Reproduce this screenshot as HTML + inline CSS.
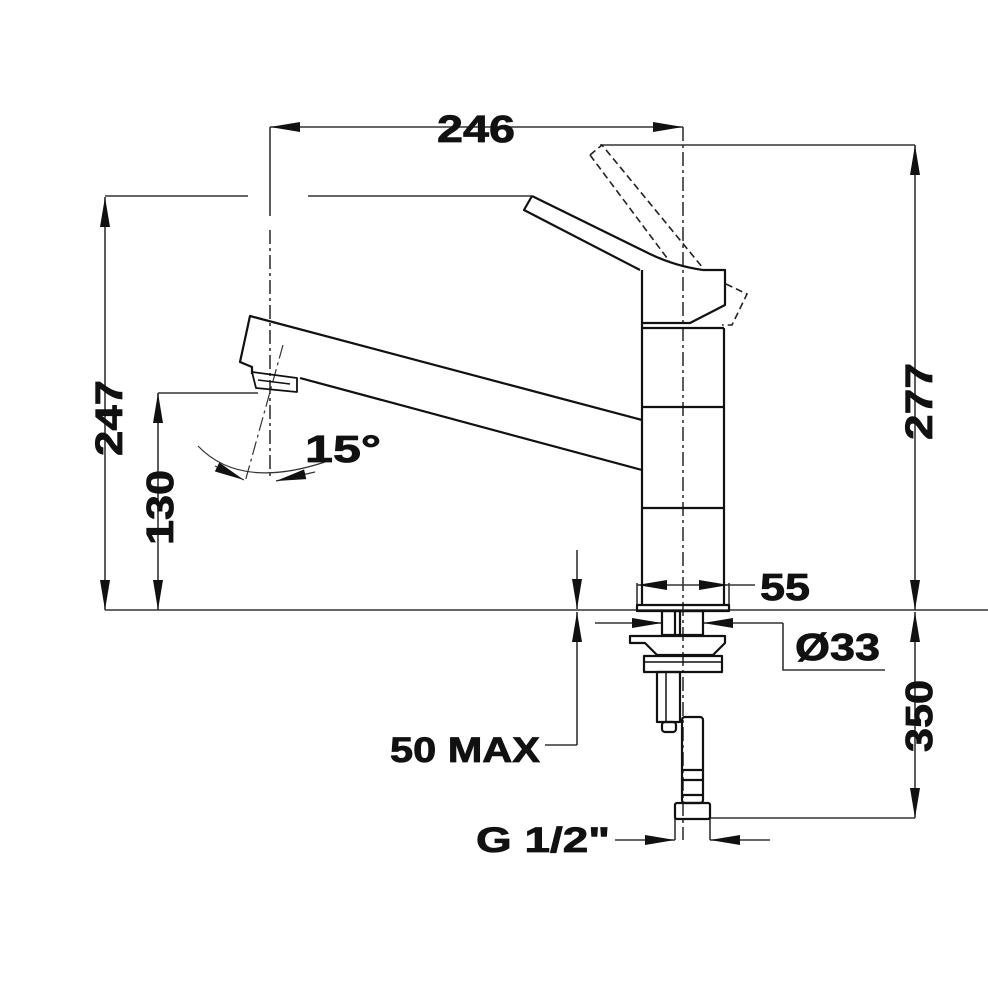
<!DOCTYPE html>
<html><head><meta charset="utf-8"><style>
html,body{margin:0;padding:0;background:#fff;width:988px;height:999px;overflow:hidden}
svg{display:block}
text{font-family:"Liberation Sans",Arial,sans-serif;font-weight:bold;fill:#111;stroke:#111;stroke-width:0.8}
</style></head><body>
<svg width="988" height="999" viewBox="0 0 988 999" xmlns="http://www.w3.org/2000/svg">
<defs>
<marker id="a" viewBox="0 0 30 10" refX="30" refY="5" markerWidth="30" markerHeight="10" markerUnits="userSpaceOnUse" orient="auto-start-reverse"><path d="M0,0L30,5L0,10z" fill="#111"/></marker>
</defs>
<g stroke="#333" stroke-width="1.6" fill="none">
<line x1="270" y1="127" x2="683" y2="127" marker-start="url(#a)" marker-end="url(#a)"/>
<line x1="270" y1="127" x2="270" y2="216"/>
<line x1="270" y1="230" x2="270" y2="480" stroke-dasharray="14,4,3,4"/>
<line x1="683" y1="127" x2="683" y2="840" stroke-dasharray="14,4,3,4"/>
<line x1="105" y1="197" x2="105" y2="610" marker-start="url(#a)" marker-end="url(#a)"/>
<line x1="105" y1="196" x2="248" y2="196"/>
<line x1="308" y1="196" x2="532" y2="196"/>
<line x1="105" y1="610" x2="990" y2="610"/>
<line x1="915" y1="145" x2="915" y2="610" marker-start="url(#a)" marker-end="url(#a)"/>
<line x1="600" y1="145" x2="915" y2="145"/>
<line x1="158" y1="393" x2="158" y2="610" marker-start="url(#a)" marker-end="url(#a)"/>
<line x1="158" y1="393" x2="258" y2="393"/>
<line x1="283" y1="345" x2="245" y2="482" stroke-dasharray="14,4,3,4" stroke-width="1.2"/>
<path d="M198,446 Q240,490 325,462" stroke-width="1.2"/>
<line x1="215" y1="466" x2="244" y2="480" marker-end="url(#a)" stroke-width="1.2"/>
<line x1="315" y1="472" x2="276" y2="481" marker-end="url(#a)" stroke-width="1.2"/>
<line x1="637" y1="585" x2="729" y2="585" marker-start="url(#a)" marker-end="url(#a)"/>
<line x1="729" y1="585" x2="755" y2="585"/>
<line x1="637" y1="583" x2="637" y2="605"/><line x1="729" y1="583" x2="729" y2="605"/>
<line x1="595" y1="623" x2="662" y2="623" marker-end="url(#a)"/>
<line x1="783" y1="623" x2="703" y2="623" marker-end="url(#a)"/>
<polyline points="783,623 783,670 885,670"/>
<line x1="577" y1="550" x2="577" y2="609" marker-end="url(#a)"/>
<line x1="577" y1="745" x2="577" y2="612" marker-end="url(#a)"/>
<line x1="545" y1="745" x2="577" y2="745"/>
<line x1="915" y1="612" x2="915" y2="818" marker-start="url(#a)" marker-end="url(#a)"/>
<line x1="710" y1="818" x2="915" y2="818"/>
<line x1="615" y1="840" x2="675" y2="840" marker-end="url(#a)"/>
<line x1="770" y1="840" x2="710" y2="840" marker-end="url(#a)"/>
<line x1="675" y1="818" x2="675" y2="840"/><line x1="710" y1="818" x2="710" y2="840"/>
</g>
<g stroke="#111" stroke-width="2.2" fill="none" stroke-linejoin="round">
<polyline points="642,420 250,316 240,362 252,367 252,374"/>
<polyline points="300,378 642,470"/>
<path d="M252,372 L297,378 L297,392 L256,388 Z" stroke-width="1.8"/>
<path d="M258,380 L290,384" stroke-width="1.5"/>
<line x1="642" y1="270" x2="642" y2="605"/>
<line x1="724" y1="328" x2="724" y2="605"/>
<line x1="642" y1="328" x2="724" y2="328"/>
<line x1="642" y1="407" x2="724" y2="407"/>
<line x1="642" y1="508" x2="724" y2="508"/>
<rect x="637" y="605" width="92" height="6"/>
<polyline points="703,270 725,270 725,305 690,323 643,323"/>
<path d="M532,196 L524,210 L640,270 M532,196 L650,254 Q675,266 703,270"/>
<rect x="662" y="611" width="41" height="24"/>
<line x1="675" y1="611" x2="675" y2="635"/><line x1="680" y1="611" x2="680" y2="635"/>
<path d="M630,636 L725,636 L725,643 L713,655 L657,655 L645,643 L630,643 Z"/>
<rect x="644" y="656" width="78" height="16"/>
<line x1="644" y1="662" x2="722" y2="662" stroke-width="1.5"/>
<rect x="657" y="672" width="23" height="50"/>
<line x1="666" y1="672" x2="666" y2="722" stroke-width="1.5"/>
<rect x="662" y="722" width="14" height="10" rx="3"/>
<rect x="682" y="717" width="21" height="86" rx="3"/>
<line x1="682" y1="770" x2="703" y2="770"/><line x1="682" y1="780" x2="703" y2="780"/><line x1="682" y1="795" x2="703" y2="795"/>
<rect x="675" y="803" width="35" height="16" rx="2"/>
</g>
<g stroke="#222" stroke-width="1.6" fill="none" stroke-dasharray="7,4">
<path d="M590,155 L602,145 L703,268 M590,155 L670,262"/>
<path d="M726,284 L747,294 L732,325 L722,325"/>
</g>
<text x="437" y="142" font-size="38" textLength="78" lengthAdjust="spacingAndGlyphs">246</text>
<text font-size="38" textLength="76" lengthAdjust="spacingAndGlyphs" transform="translate(122,456) rotate(-90)">247</text>
<text font-size="38" textLength="77" lengthAdjust="spacingAndGlyphs" transform="translate(932,440) rotate(-90)">277</text>
<text font-size="38" textLength="75" lengthAdjust="spacingAndGlyphs" transform="translate(173,545) rotate(-90)">130</text>
<text font-size="38" textLength="72" lengthAdjust="spacingAndGlyphs" transform="translate(932,752) rotate(-90)">350</text>
<text x="305" y="462" font-size="38" textLength="76" lengthAdjust="spacingAndGlyphs">15°</text>
<text x="760" y="600" font-size="38" textLength="50" lengthAdjust="spacingAndGlyphs">55</text>
<text x="795" y="660" font-size="38" textLength="85" lengthAdjust="spacingAndGlyphs">Ø33</text>
<text x="390" y="762" font-size="35" textLength="150" lengthAdjust="spacingAndGlyphs">50 MAX</text>
<text x="476" y="852" font-size="35" textLength="134" lengthAdjust="spacingAndGlyphs">G 1/2"</text>
</svg>
</body></html>
